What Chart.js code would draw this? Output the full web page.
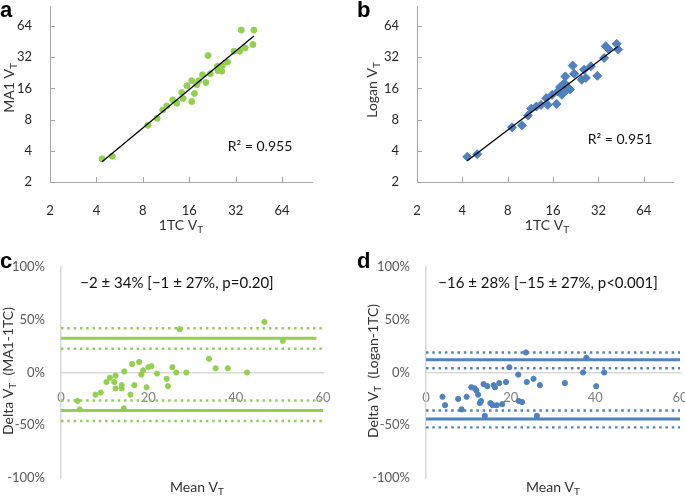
<!DOCTYPE html>
<html>
<head>
<meta charset="utf-8">
<script src="https://cdn.jsdelivr.net/npm/chart.js@4.4.1/dist/chart.umd.min.js"></script>
<style>
  body { margin: 0; background: #fff; }
  .panel { position: absolute; }
</style>
</head>
<body>
<div class="panel" style="left:0;top:0"><canvas id="panelA" width="340" height="250"></canvas></div>
<div class="panel" style="left:340px;top:0"><canvas id="panelB" width="345" height="250"></canvas></div>
<div class="panel" style="left:0;top:250px"><canvas id="panelC" width="340" height="248"></canvas></div>
<div class="panel" style="left:340px;top:250px"><canvas id="panelD" width="345" height="248"></canvas></div>
<script>
// log-log axis ticks
const logTicks = [2, 4, 8, 16, 32, 64];

// a: MA1 vs 1TC
const ma1Vt1tc = [4.35, 5.07, 8.62, 9.9, 10.77, 11.43, 12.5, 13.3, 14.3, 14.6, 15.45, 16.6, 16.6, 17.3, 17.9, 18.4, 19.5, 20.5, 21.2, 21.9, 24.4, 24.6, 26.0, 26.2, 28.3, 31.2, 34.0, 34.8, 36.8, 41.4, 42.0];
const ma1VtMa1 = [3.35, 3.55, 7.05, 8.24, 9.93, 10.85, 12.4, 11.5, 14.6, 12.8, 17.0, 11.96, 19.0, 14.3, 17.4, 19.0, 21.7, 18.3, 33.2, 22.2, 26.2, 23.8, 23.5, 26.6, 28.8, 36.6, 36.6, 58.5, 39.4, 42.5, 58.5];
const ma1FitX = [4.35, 42.0];
const ma1FitY = [3.13, 51.2];

// b: Logan vs 1TC
const loganVt1tc = [4.31, 5.02, 8.54, 9.94, 10.9, 11.45, 12.4, 13.3, 14.4, 14.75, 15.8, 16.9, 17.2, 17.8, 18.3, 19.0, 19.3, 19.5, 20.3, 20.7, 21.6, 22.1, 24.8, 25.7, 26.4, 28.5, 31.5, 34.9, 35.8, 37.2, 42.3, 43.3];
const loganVtLogan = [3.5, 3.71, 6.74, 7.05, 8.75, 10.2, 10.7, 11.1, 12.9, 11.1, 13.9, 11.35, 14.96, 16.5, 13.9, 18.0, 20.9, 15.3, 16.1, 15.6, 26.6, 22.2, 19.4, 24.3, 20.2, 26.2, 21.2, 31.5, 40.9, 38.6, 43.1, 38.0];
const loganFitX = [4.31, 43.3];
const loganFitY = [3.2, 40.9];

// c: Bland-Altman MA1-1TC
const ma1MeanVt = [3.8, 4.3, 7.9, 9.1, 10.4, 11.2, 12.2, 12.5, 12.5, 13.9, 13.9, 14.5, 14.4, 15.9, 16.3, 16.8, 17.9, 18.4, 18.8, 19.6, 20, 20.7, 22, 24.2, 24.5, 25.5, 26.4, 27.2, 28.7, 33.9, 35.4, 38.2, 42.6, 46.6, 50.8];
const ma1Delta = [-27, -35, -21, -19, -9, -5, -9, -3, -15, -12, -15, 1, -34, -21, 8, -12, 10, -2, 2, -14, 5, 6, -1, -6, -13, 5, 0, 41, 0, 13, 4, 4, 0, 48, 30];
const ma1Limits = [32.5, -36];          // limits of agreement
const ma1LimitCI = [42, 22.5, -26.5, -46]; // their confidence bounds
const ma1LimitEnd = [58.5, 60];

// d: Bland-Altman Logan-1TC
const loganMeanVt = [3.9, 4.5, 7.6, 8.4, 9.6, 10.7, 11.5, 11.9, 12.3, 12.7, 13, 13.6, 13.9, 14.5, 15.2, 15.8, 16, 16.3, 16.7, 17.3, 18, 18.9, 19.7, 21.8, 21.9, 22.7, 23.6, 23.8, 25.4, 26.2, 26.9, 32.8, 37.1, 37.9, 40.2, 42.1];
const loganDelta = [-23, -31, -25, -35, -23, -14, -15, -17, -21, -29, -27, -11, -41, -13, -29, -31, -12, -14, -31, -10, -30, -9, 5, -2, -27, -28, 19, -9, -6, -41, -12, -10, 0, 14, -13, 0];
const loganLimits = [12, -44];
const loganLimitCI = [19, 4, -36, -52];
const loganLimitEnd = [60, 60];

const pctTicks = [-100, -50, 0, 50, 100];
const meanTicks = [0, 20, 40, 60];

const GREEN = '#92d050';
const BLUE = '#4f81bd';
const FONT = 'Lato, "Open Sans", sans-serif';

function pairs(xs, ys) {
  return xs.map((x, i) => ({ x: x, y: ys[i] }));
}

// text with subscripts: parts = [[text, isSub], ...]
function drawParts(ctx, parts, x, y, size, color, rotate) {
  ctx.save();
  ctx.translate(x, y);
  if (rotate) ctx.rotate(-Math.PI / 2);
  const big = size + 'px ' + FONT;
  const small = Math.round(size * 0.68) + 'px ' + FONT;
  let total = 0;
  parts.forEach(p => { ctx.font = p[1] ? small : big; total += ctx.measureText(p[0]).width; });
  let cx = -total / 2;
  ctx.fillStyle = color;
  ctx.textAlign = 'left';
  ctx.textBaseline = 'middle';
  parts.forEach(p => {
    ctx.font = p[1] ? small : big;
    ctx.fillText(p[0], cx, p[1] ? size * 0.32 : 0);
    cx += ctx.measureText(p[0]).width;
  });
  ctx.restore();
}

const panelText = {
  id: 'panelText',
  afterDraw(chart, args, o) {
    const ctx = chart.ctx;
    // inward tick marks (Excel style)
    if (o.innerTicks) {
      const xs = chart.scales.x, ys = chart.scales.y, a = chart.chartArea;
      ctx.save();
      ctx.strokeStyle = '#a6a6a6';
      ctx.lineWidth = 1;
      ctx.beginPath();
      logTicks.forEach(v => {
        const px = Math.round(xs.getPixelForValue(v)) + 0.5;
        ctx.moveTo(px, a.bottom); ctx.lineTo(px, a.bottom - 5);
        const py = Math.round(ys.getPixelForValue(v)) + 0.5;
        ctx.moveTo(a.left, py); ctx.lineTo(a.left + 5, py);
      });
      ctx.stroke();
      ctx.restore();
    }
    ctx.save();
    ctx.fillStyle = '#000';
    ctx.font = 'bold 22px "Liberation Sans", Arial, sans-serif';
    ctx.textBaseline = 'alphabetic';
    ctx.fillText(o.letter, o.letterX, o.letterY);
    ctx.restore();
    drawParts(ctx, o.xTitle, o.xTitleX, o.xTitleY, 14, '#333', false);
    drawParts(ctx, o.yTitle, o.yTitleX, o.yTitleY, 14, '#333', true);
    drawParts(ctx, [[o.note, false]], o.noteX, o.noteY, o.noteSize, '#111', false);
  }
};

function fixAxis(w, h) {
  return s => {
    if (w !== null) s.width = w;
    if (h !== null) s.height = h;
    s.paddingLeft = 0; s.paddingRight = 0; s.paddingTop = 0; s.paddingBottom = 0;
  };
}

function logChart(id, xs, ys, fitX, fitY, pointOpts, pad, yWidth, text) {
  return new Chart(document.getElementById(id), {
    type: 'scatter',
    data: {
      datasets: [
        Object.assign({ data: pairs(xs, ys), order: 1 }, pointOpts),
        { data: pairs(fitX, fitY), showLine: true, borderColor: '#000', borderWidth: 1.3, pointRadius: 0, order: 0 }
      ]
    },
    options: {
      responsive: false,
      animation: false,
      layout: { padding: pad },
      plugins: { legend: { display: false }, tooltip: { enabled: false }, panelText: text },
      scales: {
        x: {
          type: 'logarithmic', min: 2, max: 100,
          afterBuildTicks: s => { s.ticks = logTicks.map(v => ({ value: v })); },
          afterFit: fixAxis(null, 250 - 182 - pad.bottom),
          grid: { display: false },
          border: { color: '#a6a6a6', width: 1 },
          ticks: { color: '#262626', font: { family: FONT, size: 13 }, padding: 13, callback: v => String(v), maxRotation: 0 }
        },
        y: {
          type: 'logarithmic', min: 2, max: 100,
          afterBuildTicks: s => { s.ticks = logTicks.map(v => ({ value: v })); },
          afterFit: fixAxis(yWidth, null),
          grid: { display: false },
          border: { color: '#a6a6a6', width: 1 },
          ticks: { color: '#262626', font: { family: FONT, size: 13 }, padding: 10, callback: v => String(v) }
        }
      }
    },
    plugins: [panelText]
  });
}

function blandChart(id, means, deltas, limits, limitCI, limitEnd, color, pad, yWidth, text) {
  const sets = [{ data: pairs(means, deltas), backgroundColor: color, borderColor: color, pointRadius: 2.6, order: 0 }];
  limits.forEach((v, i) => {
    sets.push({ data: [{ x: 0, y: v }, { x: limitEnd[i], y: v }], showLine: true, borderColor: color, borderWidth: 3, pointRadius: 0, order: 1 });
  });
  limitCI.forEach(v => {
    sets.push({ data: [{ x: 0, y: v }, { x: 60, y: v }], showLine: true, borderColor: color, borderWidth: 2.4, borderDash: [2.5, 3.8], pointRadius: 0, order: 1 });
  });
  return new Chart(document.getElementById(id), {
    type: 'scatter',
    data: { datasets: sets },
    options: {
      responsive: false,
      animation: false,
      layout: { padding: pad },
      plugins: { legend: { display: false }, tooltip: { enabled: false }, panelText: text },
      scales: {
        x: {
          min: 0, max: 60,
          position: { y: 0 },
          afterBuildTicks: s => { s.ticks = meanTicks.map(v => ({ value: v })); },
          afterFit: fixAxis(null, 0),
          grid: { display: false },
          border: { color: '#d9d9d9', width: 1.5 },
          ticks: { color: '#7f7f7f', font: { family: FONT, size: 13 }, padding: 10, maxRotation: 0 }
        },
        y: {
          min: -100, max: 100,
          afterBuildTicks: s => { s.ticks = pctTicks.map(v => ({ value: v })); },
          afterFit: fixAxis(yWidth, null),
          grid: { display: false },
          border: { color: '#d9d9d9', width: 1.5 },
          ticks: { color: '#595959', font: { family: FONT, size: 13 }, padding: 8, callback: v => v + '%' }
        }
      }
    },
    plugins: [panelText]
  });
}

logChart('panelA', ma1Vt1tc, ma1VtMa1, ma1FitX, ma1FitY,
  { backgroundColor: GREEN, borderColor: GREEN, pointRadius: 3 },
  { top: 6, right: 28, left: 0, bottom: 0 }, 50,
  { innerTicks: true, letter: 'a', letterX: 0, letterY: 17,
    xTitle: [['1TC V', false], ['T', true]], xTitleX: 181, xTitleY: 225,
    yTitle: [['MA1 V', false], ['T', true]], yTitleX: 9, yTitleY: 88,
    note: 'R² = 0.955', noteX: 260, noteY: 146, noteSize: 14 });

logChart('panelB', loganVt1tc, loganVtLogan, loganFitX, loganFitY,
  { backgroundColor: BLUE, borderColor: BLUE, pointStyle: 'rectRot', pointRadius: 4.5 },
  { top: 6, right: 12, left: 0, bottom: 0 }, 77,
  { innerTicks: true, letter: 'b', letterX: 17, letterY: 17,
    xTitle: [['1TC V', false], ['T', true]], xTitleX: 207, xTitleY: 225,
    yTitle: [['Logan V', false], ['T', true]], yTitleX: 32, yTitleY: 90,
    note: 'R² = 0.951', noteX: 280, noteY: 139, noteSize: 14 });

blandChart('panelC', ma1MeanVt, ma1Delta, ma1Limits, ma1LimitCI, ma1LimitEnd, GREEN,
  { top: 17, right: 17, left: 0, bottom: 20 }, 61,
  { letter: 'c', letterX: 0, letterY: 18,
    xTitle: [['Mean V', false], ['T', true]], xTitleX: 197, xTitleY: 237,
    yTitle: [['Delta V', false], ['T', true], ['  (MA1-1TC)', false]], yTitleX: 8, yTitleY: 121,
    note: '−2 ± 34% [−1 ± 27%, p=0.20]', noteX: 177, noteY: 33, noteSize: 15 });

blandChart('panelD', loganMeanVt, loganDelta, loganLimits, loganLimitCI, loganLimitEnd, BLUE,
  { top: 17, right: 5, left: 0, bottom: 20 }, 86,
  { letter: 'd', letterX: 17, letterY: 18,
    xTitle: [['Mean V', false], ['T', true]], xTitleX: 213, xTitleY: 237,
    yTitle: [['Delta V', false], ['T', true], ['  (Logan-1TC)', false]], yTitleX: 33, yTitleY: 121,
    note: '−16 ± 28% [−15 ± 27%, p<0.001]', noteX: 208, noteY: 33, noteSize: 15 });
</script>
</body>
</html>
